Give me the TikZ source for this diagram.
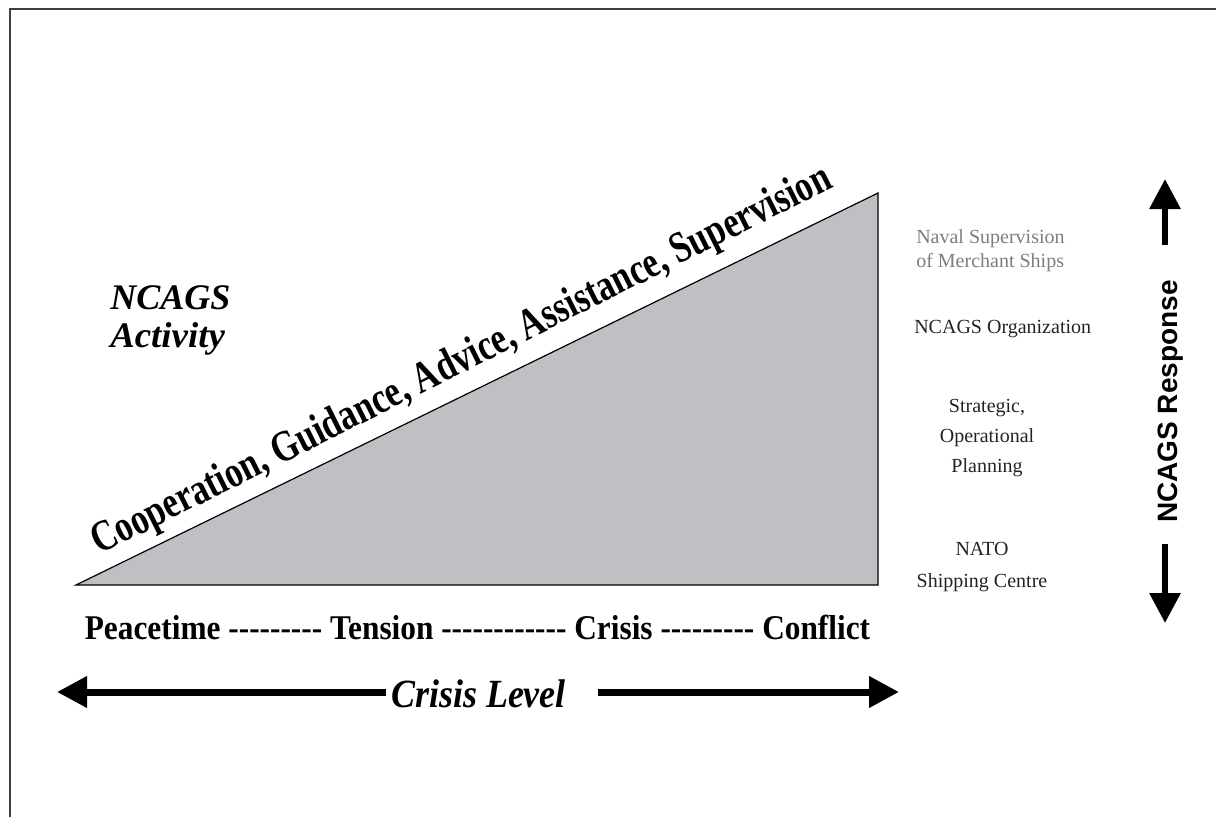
\documentclass[tikz,border=0pt]{standalone}
\usepackage{fontspec}
\setmainfont{Liberation Serif}
\setsansfont{Liberation Sans}
\usepackage{graphicx}
\usetikzlibrary{arrows.meta}
\newcommand\fitw[2]{\resizebox{#1}{\height}{#2}}
\newcommand\hh{\mbox{-}}
\definecolor{trigray}{RGB}{190,192,195}
\definecolor{lbltext}{RGB}{35,35,35}
\definecolor{lightlbl}{RGB}{125,125,125}
\tikzset{
  frameline/.style={draw=black!75, line width=1.5pt},
  tri/.style={fill=trigray, draw=black, line width=0.9pt, line join=miter},
  bigarrow/.style={line width=5.25pt, -{Triangle[length=22.5pt,width=22.5pt]}},
  vertarrow/.style={line width=4.5pt, -{Triangle[length=22.5pt,width=22.5pt]}},
  lbl/.style={inner sep=0pt, font=\fontsize{15}{18}\selectfont, text=lbltext},
  bigtxt/.style={inner sep=0pt, text=black},
}
\begin{document}
\begin{tikzpicture}[x=0.75pt,y=-0.75pt]
\useasboundingbox (0,0) rectangle (1216,817);
% frame
\draw[frameline] (10,817) -- (10,9) -- (1216,9);
% triangle
\coordinate (tA) at (76,585);
\coordinate (tB) at (878,193);
\coordinate (tC) at (878,585);
\draw[tri] (tA) -- (tB) -- (tC) -- cycle;
% diagonal text
\node[bigtxt, rotate=26.6, anchor=base, font=\bfseries\fontsize{33}{36}\selectfont] (coop) at (467,371)
  {\fitw{616pt}{Cooperation, Guidance, Advice, Assistance, Supervision}};
% NCAGS Activity
\node[bigtxt, anchor=north west, align=left, font=\bfseries\itshape\fontsize{27}{28.5}\selectfont] (act) at (110,285)
  {\fitw{90pt}{NCAGS}\\\fitw{86pt}{Activity}};
% phases
\node[bigtxt, anchor=base, font=\bfseries\fontsize{26}{28}\selectfont] (phases) at (477.5,639)
  {\fitw{589pt}{Peacetime \hh\hh\hh\hh\hh\hh\hh\hh\hh{} Tension \hh\hh\hh\hh\hh\hh\hh\hh\hh\hh\hh\hh{} Crisis \hh\hh\hh\hh\hh\hh\hh\hh\hh{} Conflict}};
% crisis level
\node[bigtxt, anchor=base, font=\bfseries\itshape\fontsize{30}{32}\selectfont] (cl) at (478.5,707) {\fitw{131pt}{Crisis Level}};
\coordinate (lefttip) at (57,692);
\coordinate (righttip) at (899,692);
\draw[bigarrow] ([xshift=-3.75pt]cl.west |- lefttip) -- (lefttip);
\draw[bigarrow] ([xshift=24pt]cl.east |- righttip) -- (righttip);
% right labels
\node[lbl, text=lightlbl, anchor=north west, align=left, font=\fontsize{15}{18}\selectfont] (naval) at (916,229.5)
  {Naval Supervision\\of Merchant Ships};
\node[lbl, anchor=base west] (org) at (914,333) {NCAGS Organization};
\node[lbl, anchor=north, align=center, font=\fontsize{15}{22.5}\selectfont] (strat) at (987,399)
  {Strategic,\\Operational\\Planning};
\node[lbl, anchor=north, align=center, font=\fontsize{15}{24}\selectfont] (nato) at (982,542)
  {NATO\\Shipping Centre};
% NCAGS Response
\node[bigtxt, rotate=90, anchor=base, font=\sffamily\bfseries\fontsize{21}{24}\selectfont] (resp) at (1177,401.5) {NCAGS Response};
\coordinate (uptip) at (1165,179);
\coordinate (downtip) at (1165,623);
\draw[vertarrow] (1165,245) -- (uptip);
\draw[vertarrow] (1165,544) -- (downtip);
\end{tikzpicture}
\end{document}
